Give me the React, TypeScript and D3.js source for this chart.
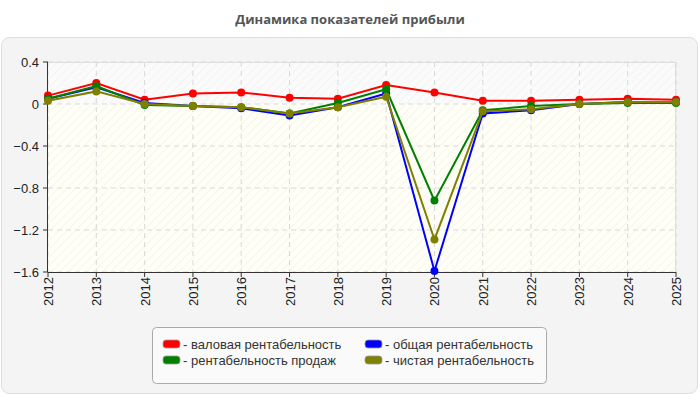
import React from "react";
import * as d3 from "d3";

const years = [2012, 2013, 2014, 2015, 2016, 2017, 2018, 2019, 2020, 2021, 2022, 2023, 2024, 2025];
const grossMargin = [0.08, 0.2, 0.04, 0.1, 0.11, 0.06, 0.05, 0.18, 0.11, 0.03, 0.03, 0.04, 0.05, 0.04];
const totalMargin = [0.05, 0.16, 0.01, -0.02, -0.04, -0.11, -0.03, 0.1, -1.59, -0.09, -0.06, 0.0, 0.02, 0.02];
const salesMargin = [0.05, 0.17, -0.01, -0.02, -0.03, -0.09, 0.01, 0.14, -0.92, -0.06, -0.02, 0.0, 0.01, 0.01];
const netMargin = [0.03, 0.12, 0.0, -0.02, -0.03, -0.09, -0.03, 0.07, -1.29, -0.07, -0.05, 0.0, 0.02, 0.02];
const yTicks = [0.4, 0, -0.4, -0.8, -1.2, -1.6];

const series = [
  { name: "- валовая рентабельность", color: "#ff0000", values: grossMargin },
  { name: "- общая рентабельность", color: "#0000ff", values: totalMargin },
  { name: "- рентабельность продаж", color: "#008000", values: salesMargin },
  { name: "- чистая рентабельность", color: "#808000", values: netMargin },
];

const W = 700;
const H = 400;
const plot = { left: 48, right: 676, top: 62, bottom: 272 };

export default function App() {
  const x = d3.scalePoint<number>().domain(years).range([plot.left, plot.right]);
  const y = d3.scaleLinear().domain([-1.6, 0.4]).range([plot.bottom, plot.top]);
  const line = d3
    .line<number>()
    .x((_, i) => x(years[i])!)
    .y((d) => y(d));

  const font = "'Liberation Sans', Arial, sans-serif";

  return (
    <div style={{ position: "absolute", left: 0, top: 0 }}>
      <svg width={W} height={H} style={{ display: "block" }}>
        <defs>
          <pattern id="hatch" width="6" height="6" patternUnits="userSpaceOnUse" patternTransform="rotate(45)">
            <line x1="0" y1="0" x2="0" y2="6" stroke="#ececec" strokeWidth="1" />
          </pattern>
        </defs>
        <rect width={W} height={H} fill="#fff" />
        <text x={W / 2} y={24} textAnchor="middle" fontFamily="'Open Sans', sans-serif" fontWeight="bold" fontSize={13} fill="#555">
          Динамика показателей прибыли
        </text>
        <rect x={1.5} y={37.5} width={696} height={356} rx={8} fill="#f4f4f4" stroke="#dddddd" />

        {/* plot background: white above zero, faint yellow below */}
        <rect x={plot.left} y={plot.top} width={plot.right - plot.left} height={y(0) - plot.top} fill="#fbfbfb" />
        <rect x={plot.left} y={y(0)} width={plot.right - plot.left} height={plot.bottom - y(0)} fill="#fffff6" />
        <rect x={plot.left} y={plot.top} width={plot.right - plot.left} height={plot.bottom - plot.top} fill="url(#hatch)" />

        {/* grid */}
        {years.map((yr) => (
          <line key={yr} x1={x(yr)} x2={x(yr)} y1={plot.top} y2={plot.bottom} stroke="#d8d8d8" strokeDasharray="5,4" />
        ))}
        {yTicks.map((t) => (
          <line key={t} x1={plot.left} x2={plot.right} y1={y(t)} y2={y(t)} stroke="#d8d8d8" strokeDasharray="5,4" />
        ))}
        <line x1={plot.left} x2={plot.right} y1={plot.top + 0.5} y2={plot.top + 0.5} stroke="#dddddd" />
        <line x1={plot.right - 0.5} x2={plot.right - 0.5} y1={plot.top} y2={plot.bottom} stroke="#dddddd" />

        {/* axes */}
        <line x1={plot.left - 0.5} x2={plot.left - 0.5} y1={plot.top} y2={plot.bottom} stroke="#333" />
        <line x1={plot.left} x2={plot.right} y1={plot.bottom + 0.5} y2={plot.bottom + 0.5} stroke="#333" />
        {yTicks.map((t) => (
          <g key={t}>
            <line x1={plot.left - 5} x2={plot.left} y1={y(t)} y2={y(t)} stroke="#333" />
            <text x={plot.left - 9} y={y(t)} dy="0.35em" textAnchor="end" fontFamily={font} fontSize={13} fill="#222">
              {d3.format("")(t)}
            </text>
          </g>
        ))}
        {years.map((yr) => (
          <g key={yr}>
            <line x1={x(yr)} x2={x(yr)} y1={plot.bottom} y2={plot.bottom + 5} stroke="#333" />
            <text
              transform={`translate(${x(yr)! + 5},${plot.bottom + 5}) rotate(-90)`}
              textAnchor="end"
              fontFamily={font}
              fontSize={13}
              fill="#222"
            >
              {yr}
            </text>
          </g>
        ))}

        {/* series */}
        {series.map((s) => (
          <g key={s.name}>
            <path d={line(s.values)!} fill="none" stroke={s.color} strokeWidth={2} />
            {s.values.map((v, i) => (
              <circle key={i} cx={x(years[i])} cy={y(v)} r={4} fill={s.color} />
            ))}
          </g>
        ))}

        {/* legend, two columns */}
        <rect x={152.5} y={327.5} width={394} height={56} rx={4} fill="#fafafa" stroke="#aaaaaa" />
        {series.map((s, i) => {
          const lx = i % 2 === 0 ? 163 : 365;
          const ly = i < 2 ? 344 : 360;
          return (
            <g key={s.name}>
              <rect x={lx} y={ly - 4} width={17} height={8} rx={3} fill={s.color} stroke="#999" strokeWidth={0.8} />
              <text x={lx + 20} y={ly} dy="0.35em" fontFamily={font} fontSize={13} fill="#333">
                {s.name}
              </text>
            </g>
          );
        })}
      </svg>
    </div>
  );
}
